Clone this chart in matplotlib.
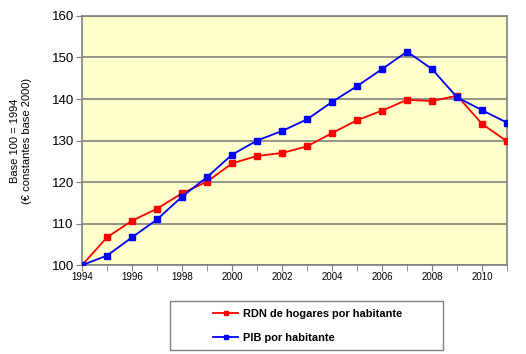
import matplotlib
matplotlib.use("Agg")
import matplotlib.pyplot as plt
from matplotlib.patches import Rectangle

plt.rcParams['font.family'] = ['Liberation Sans', 'DejaVu Sans']

years = list(range(1994, 2012))
rdn = [100, 106.7, 110.7, 113.6, 117.3, 120.1, 124.5, 126.3, 127.0, 128.6,
       131.8, 134.9, 137.2, 139.8, 139.5, 140.8, 134.0, 129.8]
pib = [100, 102.3, 106.7, 111.0, 116.5, 121.2, 126.6, 130.0, 132.3, 135.1,
       139.3, 143.1, 147.2, 151.4, 147.2, 140.4, 137.3, 134.3]

fig = plt.figure(figsize=(5.26, 3.54), dpi=100)
ax = fig.add_axes([0.156, 0.251, 0.808, 0.704])
ax.set_facecolor('#FFFFCC')

l1, = ax.plot(years, rdn, color='#FF0000', marker='s', markersize=4.5, linewidth=1.3,
              label='RDN de hogares por habitante', zorder=3)
l2, = ax.plot(years, pib, color='#0000FF', marker='s', markersize=4.5, linewidth=1.3,
              label='PIB por habitante', zorder=3)

ax.set_xlim(1994, 2011)
ax.set_ylim(100, 160)
ax.set_yticks(range(100, 161, 10))
ax.set_xticks(range(1994, 2012, 2))
ax.set_xticks(years, minor=True)
ax.yaxis.grid(True, color='#808080', linewidth=1.2)
ax.set_axisbelow(True)
for s in ax.spines.values():
    s.set_color('#808080')
    s.set_linewidth(1.2)
ax.tick_params(axis='y', labelsize=9.5, length=4, color='#808080', pad=2)
ax.tick_params(axis='x', which='both', labelsize=7, length=4, color='#808080', pad=1)

ax.set_ylabel('Base 100 = 1994\n(€ constantes base 2000)', fontsize=8, labelpad=14)

# legend box drawn separately so the entries can sit indented inside it
fig.patches.append(Rectangle((0.323, 0.011), 0.519, 0.138, transform=fig.transFigure,
                             facecolor='white', edgecolor='#808080', linewidth=1.0))
leg = fig.legend(handles=[l1, l2], loc='upper left', bbox_to_anchor=(0.405, 0.127),
                 frameon=False, handlelength=2.3, handletextpad=0.4,
                 markerscale=0.6, borderpad=0, borderaxespad=0, labelspacing=1.3,
                 prop={'weight': 'bold', 'size': 7.9})

fig.savefig('out.png', dpi=100)
